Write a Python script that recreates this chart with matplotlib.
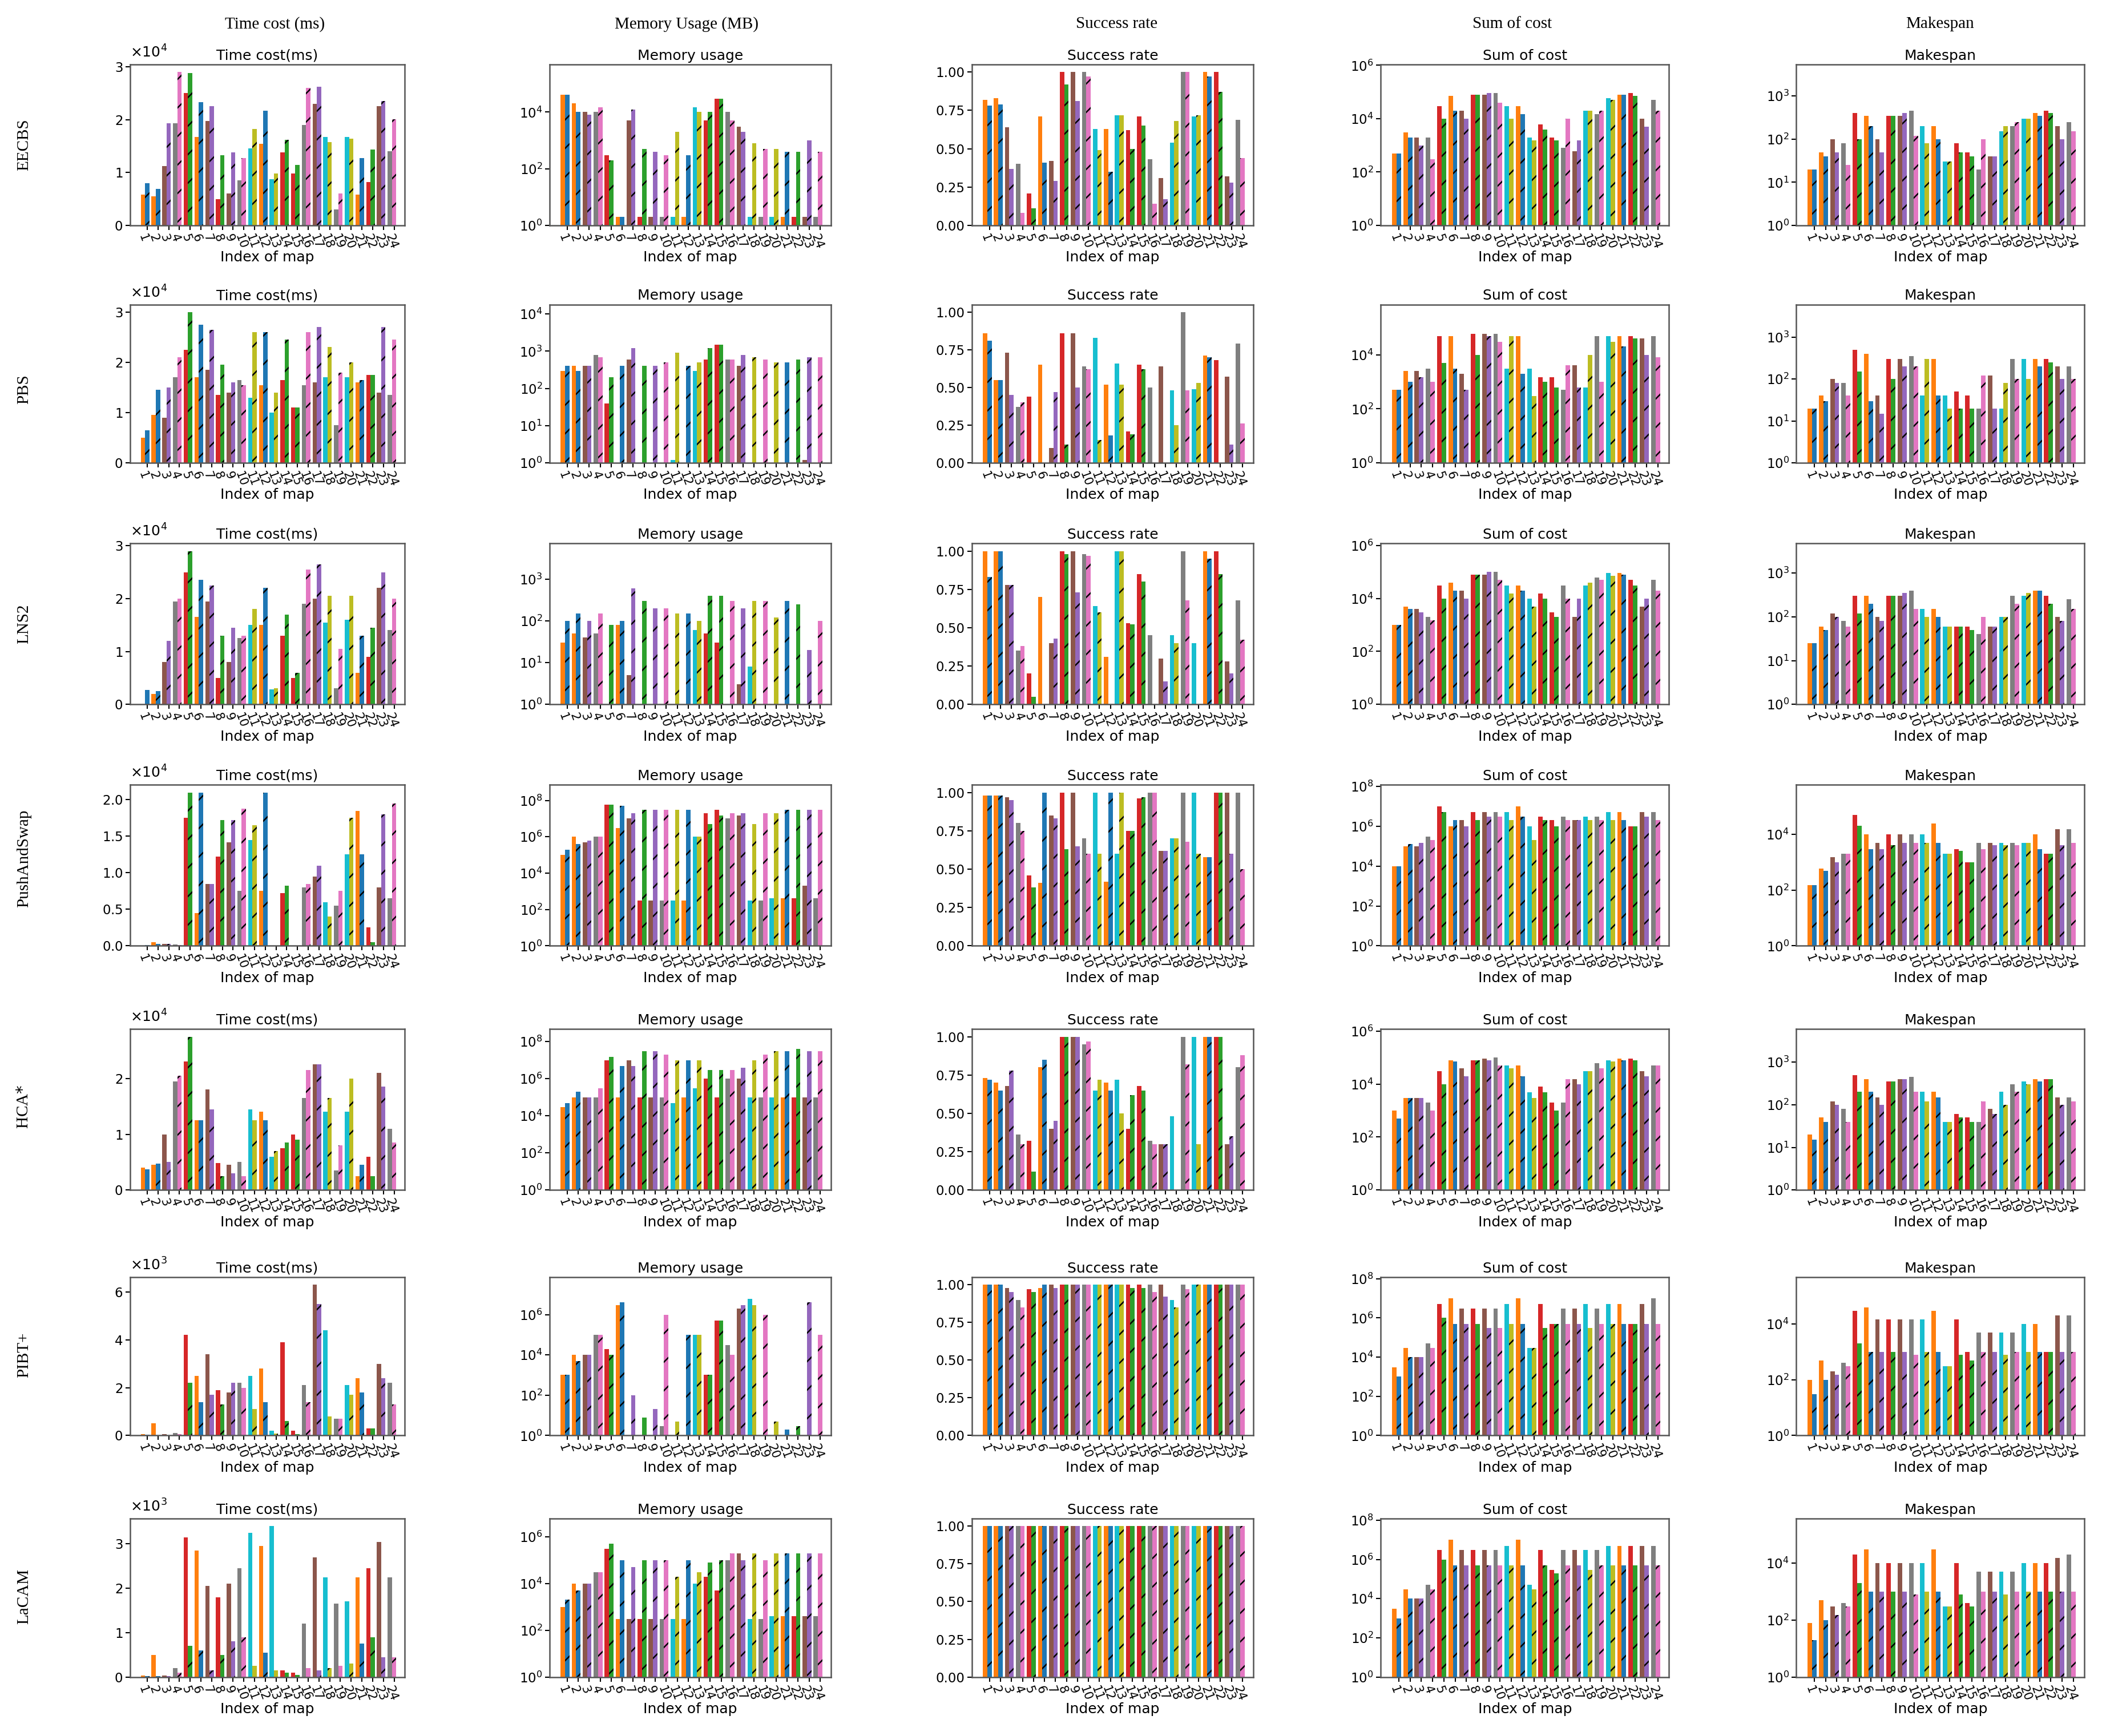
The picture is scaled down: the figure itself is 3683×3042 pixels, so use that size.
import matplotlib
matplotlib.use("Agg")
import matplotlib.pyplot as plt
from matplotlib.ticker import NullLocator, LogLocator, MaxNLocator

plt.rcParams['hatch.color'] = 'black'
plt.rcParams['hatch.linewidth'] = 0.6

maps = list(range(1, 25))
# colour pair per map (plain, hatched)
pair_colors = ['ob', 'ob', 'np', 'gk', 'rG', 'ob', 'np', 'rG', 'np', 'gk', 'cy', 'ob',
               'cy', 'rG', 'rG', 'gk', 'np', 'cy', 'gk', 'cy', 'ob', 'rG', 'np', 'gk']
cmap = {'o': '#ff7f0e', 'b': '#1f77b4', 'n': '#8c564b', 'p': '#9467bd', 'g': '#7f7f7f',
        'k': '#e377c2', 'r': '#d62728', 'G': '#2ca02c', 'c': '#17becf', 'y': '#bcbd22'}

methods = ['EECBS', 'PBS', 'LNS2', 'PushAndSwap', 'HCA$*$', 'PIBT+', 'LaCAM']
col_headers = ['Time cost (ms)', 'Memory Usage (MB)', 'Success rate', 'Sum of cost', 'Makespan']
panel_titles = ['Time cost(ms)', 'Memory usage', 'Success rate', 'Sum of cost', 'Makespan']

# ---- EECBS ----
eecbs_time = [(5800,8000),(5500,6900),(11200,19300),(19300,29000),(25000,28800),(16700,23300),(19800,22500),(5000,13300),(6000,13800),(8500,12700),(14600,18200),(15400,21700),(8700,9800),(13800,16200),(9800,11400),(19000,26000),(23000,26200),(16700,15700),(3000,6000),(16700,16400),(5800,12700),(8200,14300),(22500,23500),(14000,20100)]
eecbs_mem = [(4e4,4e4),(2e4,1e4),(1e4,8e3),(1e4,1.5e4),(300,200),(2,2),(5e3,1.2e4),(2,500),(2,400),(2,300),(2,2e3),(2,300),(1.5e4,1e4),(5e3,1e4),(3e4,3e4),(1e4,5e3),(3e3,2e3),(2,800),(2,500),(2,500),(2,400),(2,400),(2,1e3),(2,400)]
eecbs_succ = [(0.82,0.78),(0.83,0.79),(0.64,0.37),(0.40,0.08),(0.21,0.11),(0.71,0.41),(0.42,0.29),(1.0,0.92),(1.0,0.81),(1.0,0.97),(0.63,0.49),(0.63,0.35),(0.72,0.72),(0.62,0.50),(0.71,0.65),(0.43,0.14),(0.31,0.17),(0.54,0.68),(1.0,1.0),(0.71,0.72),(1.0,0.97),(1.0,0.87),(0.32,0.28),(0.69,0.44)]
eecbs_sum = [(500,500),(3e3,2e3),(2e3,1e3),(2e3,300),(3e4,1e4),(7e4,2e4),(2e4,1e4),(8e4,8e4),(8e4,9e4),(9e4,4e4),(3e4,1e4),(3e4,1.5e4),(2e3,1.5e3),(6e3,4e3),(2e3,1.5e3),(800,1e4),(600,1.5e3),(2e4,2e4),(1.5e4,2e4),(6e4,5e4),(8e4,8e4),(9e4,7e4),(1e4,5e3),(5e4,2e4)]
eecbs_mk = [(20,20),(50,40),(100,50),(80,25),(400,100),(350,200),(100,50),(350,350),(350,400),(450,120),(200,80),(200,100),(30,30),(80,50),(50,40),(20,100),(40,40),(150,200),(200,250),(300,300),(400,350),(450,400),(200,100),(250,150)]
# ---- PBS ----
pbs_time = [(5000,6500),(9500,14500),(9000,15000),(17000,21000),(22500,30000),(17000,27500),(18500,26500),(13500,19500),(14000,16000),(16500,15500),(13000,26000),(15500,26000),(10000,14000),(16500,24500),(11000,11000),(15500,26000),(16000,27000),(17000,23000),(7500,18000),(17000,20000),(16000,16500),(17500,17500),(14000,27000),(13500,24500)]
pbs_mem = [(300,400),(400,300),(400,400),(800,700),(40,200),(1,400),(600,1200),(1,400),(1,400),(1,500),(1.2,900),(1,400),(300,500),(600,1200),(1500,1500),(600,600),(400,800),(1,700),(1,600),(1,500),(1,500),(1,600),(1.2,700),(1,700)]
pbs_succ = [(0.86,0.81),(0.55,0.55),(0.73,0.45),(0.37,0.40),(0.44,0.0),(0.65,0.0),(0.1,0.47),(0.86,0.12),(0.86,0.5),(0.64,0.62),(0.83,0.15),(0.52,0.18),(0.66,0.52),(0.21,0.19),(0.65,0.62),(0.5,0.0),(0.64,0.0),(0.48,0.25),(1.0,0.48),(0.49,0.53),(0.71,0.7),(0.68,0.0),(0.57,0.12),(0.79,0.26)]
pbs_sum = [(500,500),(2.5e3,1e3),(2.5e3,1.5e3),(3e3,1e3),(5e4,5e3),(5e4,3e3),(2e3,500),(6e4,1e4),(6e4,5e4),(6e4,3e4),(3e3,5e4),(5e4,2e3),(3e3,300),(1.5e3,1e3),(1.5e3,600),(500,4e3),(4e3,600),(600,1e4),(5e4,1e3),(5e4,3e4),(5e4,2e4),(5e4,4e4),(4e4,1e4),(5e4,8e3)]
pbs_mk = [(20,20),(40,30),(100,80),(80,40),(500,150),(400,30),(40,15),(300,100),(300,200),(350,200),(40,300),(300,40),(40,20),(50,20),(40,20),(20,120),(120,20),(20,80),(300,100),(300,100),(300,200),(300,250),(200,100),(200,100)]
# ---- LNS2 ----
lns2_time = [(0,2700),(2000,2500),(8000,12000),(19500,20000),(25000,29000),(16500,23500),(19500,22500),(5000,13000),(8000,14500),(12500,13000),(15000,18000),(15000,22000),(2800,3000),(13000,17000),(5000,6000),(19000,25500),(20000,26500),(15500,20500),(3000,10500),(16000,20500),(6000,13000),(9000,14500),(22000,25000),(14000,20000)]
lns2_mem = [(30,100),(50,150),(40,100),(50,150),(1,80),(80,100),(5,600),(1,300),(1,200),(1,200),(1,150),(1,150),(60,100),(50,400),(30,400),(1,300),(3,200),(8,300),(1,300),(1,120),(1,300),(1,250),(1,20),(1,100)]
lns2_succ = [(1.0,0.83),(1.0,1.0),(0.78,0.78),(0.35,0.38),(0.2,0.05),(0.7,0.0),(0.4,0.43),(1.0,0.98),(1.0,0.73),(0.98,0.97),(0.64,0.6),(0.31,0.0),(1.0,1.0),(0.53,0.52),(0.85,0.8),(0.45,0.0),(0.3,0.15),(0.45,0.4),(1.0,0.68),(0.4,0.0),(1.0,0.95),(1.0,0.85),(0.28,0.2),(0.68,0.42)]
lns2_sum = [(1e3,1e3),(5e3,4e3),(4e3,3e3),(2e3,1.5e3),(3e4,1e4),(4e4,2e4),(2e4,1e4),(8e4,8e4),(8e4,1e5),(1e5,5e4),(3e4,1.5e4),(3e4,2e4),(1e4,5e3),(1.5e4,1e4),(3e3,2e3),(3e4,1e4),(2e3,1e4),(3e4,4e4),(6e4,5e4),(9e4,7e4),(9e4,8e4),(5e4,3e4),(5e3,1e4),(5e4,2e4)]
lns2_mk = [(25,25),(60,50),(120,100),(80,60),(300,120),(300,200),(100,80),(300,300),(300,350),(400,150),(150,100),(150,100),(60,60),(60,60),(60,50),(40,100),(60,60),(100,100),(300,200),(300,350),(400,400),(300,200),(100,80),(250,150)]
# ---- PushAndSwap ----
pas_time = [(0,100),(500,300),(300,300),(200,100),(17500,21000),(4500,21000),(8500,8500),(12200,17200),(14200,17200),(7500,18800),(14500,16500),(7500,21000),(0,0),(7200,8200),(0,0),(8000,8500),(9500,11000),(6000,4000),(5500,7500),(12500,17500),(18500,12500),(2500,500),(8000,18000),(6500,19500)]
pas_mem = [(1e5,2e5),(1e6,4e5),(5e5,6e5),(1e6,1e6),(6e7,6e7),(3e6,5e7),(1e7,2e7),(300,3e7),(300,3e7),(300,3e7),(300,3e7),(300,3e7),(1e6,1e6),(2e7,5e6),(3e7,1.5e7),(1e7,2e7),(1.5e7,2e7),(300,5e6),(300,2e7),(400,2e7),(400,3e7),(400,3e7),(2e3,3e7),(400,3e7)]
pas_succ = [(0.98,0.98),(0.98,0.98),(0.97,0.95),(0.8,0.75),(0.46,0.38),(0.41,1.0),(0.85,0.83),(1.0,0.63),(1.0,0.65),(0.7,0.6),(1.0,0.6),(0.42,1.0),(0.6,1.0),(0.75,0.75),(0.96,0.97),(1.0,1.0),(0.62,0.62),(0.7,0.7),(1.0,0.68),(1.0,0.6),(0.58,0.58),(1.0,1.0),(1.0,0.6),(1.0,0.5)]
pas_sum = [(1e4,1e4),(1e5,1.3e5),(1e5,1.5e5),(3e5,2e5),(1e7,5e6),(1e6,2e6),(2e6,1e6),(5e6,2e6),(5e6,3e6),(5e6,3e6),(5e6,2e6),(1e7,3e6),(1e6,2e5),(3e6,2e6),(2e6,1e6),(3e6,2e6),(2e6,2e6),(3e6,2e6),(3e6,2e6),(5e6,2e6),(5e6,2e6),(1e6,1e6),(5e6,3e6),(5e6,2e6)]
pas_mk = [(150,150),(600,500),(1500,1000),(2000,2000),(5e4,2e4),(1e4,3e3),(5e3,3e3),(1e4,4e3),(1e4,5e3),(1e4,5e3),(1e4,5e3),(2.5e4,5e3),(2e3,2e3),(3e3,2.5e3),(1e3,1e3),(5e3,3e3),(5e3,4e3),(5e3,4e3),(5e3,4e3),(5e3,5e3),(1e4,3e3),(2e3,2e3),(1.5e4,4e3),(1.5e4,5e3)]
# ---- HCA* ----
hca_time = [(4000,3700),(4500,4700),(10000,5000),(19500,20500),(23000,27500),(12500,12500),(18000,14500),(4800,2500),(4500,3000),(5000,2500),(14500,12500),(14000,12500),(6000,7000),(7500,8500),(10000,9000),(16500,21500),(22500,22500),(14000,16500),(3500,8000),(14000,20000),(2500,4500),(6000,2500),(21000,18500),(11000,8500)]
hca_mem = [(3e4,5e4),(1e5,2e5),(1e5,1e5),(1e5,3e5),(1e7,1.5e7),(1e5,5e6),(1e7,5e6),(1e5,3e7),(1e5,3e7),(1e5,2e7),(5e4,1e7),(1e5,1e7),(3e5,1e7),(1e6,3e6),(1e5,3e6),(1e6,3e6),(1e6,4e6),(1e5,1e7),(1e5,2e7),(1e5,3e7),(1e5,3e7),(1e5,4e7),(1e5,3e7),(1e5,3e7)]
hca_succ = [(0.73,0.72),(0.7,0.65),(0.68,0.78),(0.36,0.3),(0.32,0.12),(0.8,0.85),(0.4,0.45),(1.0,1.0),(1.0,1.0),(0.95,0.97),(0.65,0.72),(0.7,0.65),(0.72,0.5),(0.4,0.62),(0.68,0.65),(0.32,0.3),(0.3,0.3),(0.48,0.0),(1.0,0.82),(1.0,0.3),(1.0,1.0),(1.0,1.0),(0.3,0.35),(0.8,0.88)]
hca_sum = [(1e3,500),(3e3,3e3),(3e3,3e3),(2e3,1e3),(3e4,1e4),(8e4,7e4),(4e4,2e4),(8e4,8e4),(9e4,8e4),(1e5,5e4),(5e4,4e4),(5e4,2e4),(5e3,3e3),(8e3,5e3),(2e3,1e3),(2e3,1.5e4),(1.5e4,1e4),(3e4,3e4),(6e4,4e4),(8e4,7e4),(9e4,8e4),(9e4,8e4),(3e4,2e4),(5e4,5e4)]
hca_mk = [(20,15),(50,40),(120,100),(80,40),(500,200),(400,200),(150,100),(350,350),(400,400),(450,200),(200,120),(200,150),(40,40),(60,50),(50,40),(40,120),(80,60),(200,100),(300,200),(350,300),(400,350),(400,400),(150,100),(150,120)]
# ---- PIBT+ ----
pibt_time = [(50,30),(500,20),(50,20),(100,50),(4200,2200),(2500,1400),(3400,1700),(1900,1300),(1800,2200),(2200,2000),(2500,1100),(2800,1400),(200,80),(3900,600),(200,50),(2100,1400),(6300,5500),(4400,800),(700,700),(2100,1700),(2400,1800),(300,300),(3000,2400),(2200,1300)]
pibt_mem = [(1e3,1e3),(1e4,5e3),(1e4,1e4),(1e5,1e5),(2e4,1e4),(3e6,4e6),(1,100),(1,8),(1,20),(3,1e6),(1,5),(1,1e5),(1e5,1e5),(1e3,1e3),(5e5,5e5),(3e4,1e4),(2e6,3e6),(6e6,3e6),(1,1e6),(1,5),(1,2),(1,3),(1,4e6),(1,1e5)]
pibt_succ = [(1,1),(1,1),(0.98,0.95),(0.9,0.85),(0.97,0.95),(0.98,1.0),(1,0.98),(1,1),(1,1),(1,1),(1,1),(1,1),(1,1),(1,0.98),(1,0.98),(1,0.95),(1,0.92),(0.9,0.85),(1,0.97),(1,1),(1,1),(1,1),(1,1),(1,1)]
pibt_sum = [(3e3,1e3),(3e4,1e4),(1e4,1e4),(5e4,3e4),(5e6,1e6),(1e7,5e5),(3e6,5e5),(3e6,5e5),(3e6,3e5),(3e6,3e5),(5e6,5e5),(1e7,5e5),(3e4,3e4),(5e6,3e5),(5e5,5e5),(3e6,5e5),(3e6,5e5),(5e6,3e5),(3e6,5e5),(5e6,5e5),(5e6,5e5),(5e5,5e5),(5e6,5e5),(1e7,5e5)]
pibt_mk = [(100,30),(500,100),(200,150),(400,300),(3e4,2e3),(4e4,1e3),(1.5e4,1e3),(1.5e4,1e3),(1.5e4,1e3),(1.5e4,800),(1.5e4,1e3),(3e4,1e3),(300,300),(1.5e4,800),(1e3,500),(5e3,1e3),(5e3,1e3),(5e3,800),(5e3,1e3),(1e4,1e3),(1e4,1e3),(1e3,1e3),(2e4,1e3),(2e4,1e3)]
# ---- LaCAM ----
lacam_time = [(30,20),(500,20),(30,20),(200,100),(3150,700),(2850,600),(2050,150),(1800,500),(2100,800),(2450,900),(3250,250),(2950,550),(3400,150),(150,100),(100,50),(1200,200),(2700,150),(2250,200),(1650,250),(1700,300),(2250,750),(2450,900),(3050,450),(2250,450)]
lacam_mem = [(1e3,2e3),(1e4,5e3),(1e4,1e4),(3e4,3e4),(3e5,5e5),(300,1e5),(300,5e4),(300,1e5),(300,1e5),(300,1e5),(300,2e4),(300,1e5),(1e4,3e4),(2e4,8e4),(5e3,1e5),(1e5,2e5),(2e5,1e5),(300,2e5),(300,1e5),(400,2e5),(400,2e5),(400,2e5),(400,2e5),(400,2e5)]
lacam_succ = [(1.0,1.0)] * 24
lacam_sum = [(3e3,1e3),(3e4,1e4),(1e4,1e4),(5e4,3e4),(3e6,1e6),(1e7,5e5),(3e6,5e5),(3e6,5e5),(3e6,5e5),(3e6,5e5),(5e6,5e5),(1e7,5e5),(5e4,3e4),(3e6,5e5),(3e5,2e5),(3e6,5e5),(3e6,5e5),(3e6,3e5),(3e6,5e5),(5e6,5e5),(5e6,5e5),(5e6,5e5),(5e6,5e5),(5e6,5e5)]
lacam_mk = [(80,20),(500,100),(300,150),(400,300),(2e4,2e3),(3e4,1e3),(1e4,1e3),(1e4,1e3),(1e4,1e3),(1e4,800),(1e4,1e3),(3e4,1e3),(300,300),(1e4,800),(400,300),(5e3,1e3),(5e3,1e3),(5e3,800),(5e3,1e3),(1e4,1e3),(1e4,1e3),(1e4,1e3),(1.5e4,1e3),(2e4,1e3)]

rows = [
    [eecbs_time, eecbs_mem, eecbs_succ, eecbs_sum, eecbs_mk],
    [pbs_time, pbs_mem, pbs_succ, pbs_sum, pbs_mk],
    [lns2_time, lns2_mem, lns2_succ, lns2_sum, lns2_mk],
    [pas_time, pas_mem, pas_succ, pas_sum, pas_mk],
    [hca_time, hca_mem, hca_succ, hca_sum, hca_mk],
    [pibt_time, pibt_mem, pibt_succ, pibt_sum, pibt_mk],
    [lacam_time, lacam_mem, lacam_succ, lacam_sum, lacam_mk],
]

W, H = 1568.0, 1294.0
fig = plt.figure(figsize=(3683/300, 3042/300), dpi=300)
col_left = [97, 410, 725, 1030, 1340]
col_w = [205, 210, 210, 215, 215]
row_tb = [(48, 168), (227, 345), (405, 525), (585, 705), (767, 887), (952, 1070), (1132, 1250)]
row_lbl_y = [108, 290, 465, 640, 825, 1010, 1190]
col_hdr_x = [205, 512, 833, 1128, 1447]

serif = 'Liberation Serif'
for j, h in enumerate(col_headers):
    fig.text(col_hdr_x[j]/W, 1-18/H, h, ha='center', va='center', fontsize=7, family=serif)
for i, m in enumerate(methods):
    fig.text(18/W, 1-row_lbl_y[i]/H, m, ha='center', va='center', rotation=90, fontsize=7, family=serif)

width = 0.4
for i, row in enumerate(rows):
    t, b = row_tb[i]
    for j, data in enumerate(row):
        ax = fig.add_axes([col_left[j]/W, 1-b/H, col_w[j]/W, (b-t)/H])
        for k, (a, h) in enumerate(data):
            c1, c2 = cmap[pair_colors[k][0]], cmap[pair_colors[k][1]]
            ax.bar(maps[k]-width, a, width, color=c1, linewidth=0)
            ax.bar(maps[k], h, width, color=c2, hatch='//', linewidth=0)
        ax.set_xticks(maps)
        ax.set_xticklabels([str(m) for m in maps], rotation=-70, fontsize=5, ha='left', va='top', rotation_mode='anchor')
        ax.tick_params(axis='y', labelsize=5.5, length=2, width=0.5, pad=1)
        ax.tick_params(axis='x', length=2, width=0.5, pad=1)
        ax.set_xlim(-0.6, 25.0)
        ax.set_xlabel('Index of map', fontsize=6, labelpad=0)
        ax.set_title(panel_titles[j], fontsize=6, pad=2)
        for s in ax.spines.values():
            s.set_linewidth(0.6)
            s.set_color('#555555')
        if j == 0:
            ax.set_ylim(bottom=0)
            ax.yaxis.set_major_locator(MaxNLocator(nbins=5, steps=[1, 2, 5, 10]))
            ax.ticklabel_format(axis='y', style='sci', scilimits=(0, 0), useMathText=True)
            ax.yaxis.get_offset_text().set_fontsize(6)
        elif j == 2:
            ax.set_ylim(0, 1.05)
            ax.set_yticks([0, 0.25, 0.5, 0.75, 1.0])
        else:
            ax.set_yscale('log')
            top = max(max(p) for p in data)
            ax.set_ylim(1, top * 12)
            ax.yaxis.set_major_locator(LogLocator(base=10, numticks=5))
            ax.yaxis.set_minor_locator(NullLocator())

fig.savefig('out.png', dpi=300)
